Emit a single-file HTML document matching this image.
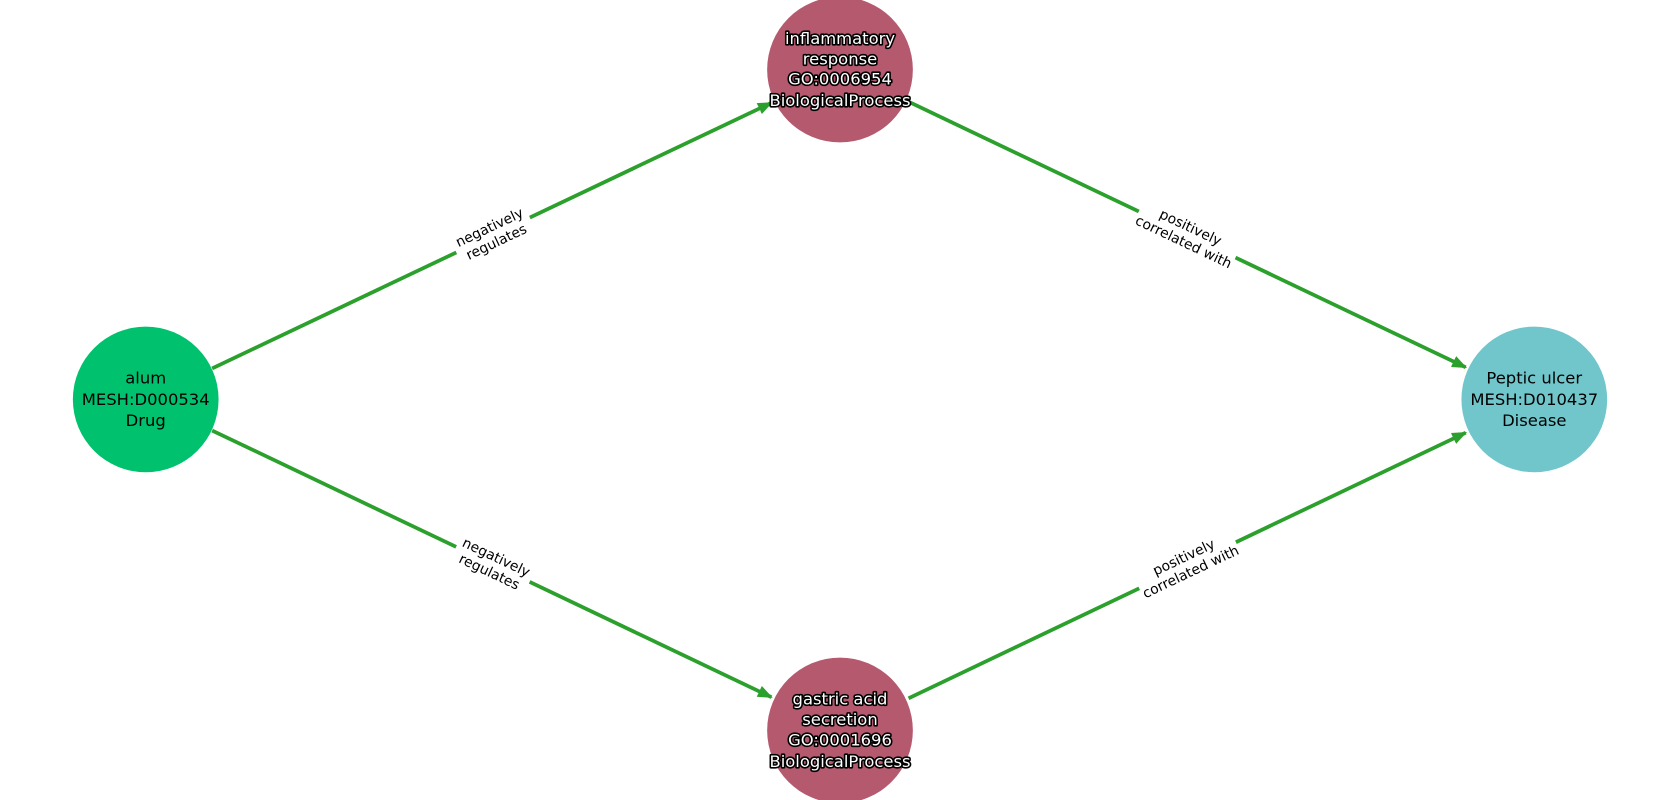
<!DOCTYPE html>
<html><head><meta charset="utf-8"><style>html,body{margin:0;padding:0;background:#fff}svg{display:block}</style></head>
<body>
<svg width="1680" height="800" viewBox="0 0 1568 747" preserveAspectRatio="none" xmlns="http://www.w3.org/2000/svg" font-family="DejaVu Sans, Liberation Sans, sans-serif">
<defs><marker id="a" viewBox="0 0 10 10" refX="9" refY="5" markerWidth="4" markerHeight="4" orient="auto"><path d="M0,1 L10,5 L0,9 z" fill="#2ca02c"/></marker></defs>
<g stroke="#2ca02c" stroke-width="3.5" fill="none">
<line x1="198" y1="344" x2="720" y2="96" marker-end="url(#a)"/>
<line x1="848" y1="95" x2="1368" y2="343" marker-end="url(#a)"/>
<line x1="198" y1="402" x2="720" y2="651" marker-end="url(#a)"/>
<line x1="848" y1="652" x2="1368" y2="404" marker-end="url(#a)"/>
</g>
<g font-size="13" text-anchor="middle" fill="#000">
<g transform="translate(460,219) rotate(-25.4)"><rect x="-38" y="-17" width="76" height="34" fill="#fff"/><text y="-3">negatively</text><text y="12">regulates</text></g>
<g transform="translate(1108,219) rotate(25.4)"><rect x="-50" y="-17" width="100" height="34" fill="#fff"/><text y="-3">positively</text><text y="12">correlated with</text></g>
<g transform="translate(460,527) rotate(25.4)"><rect x="-38" y="-17" width="76" height="34" fill="#fff"/><text y="-3">negatively</text><text y="12">regulates</text></g>
<g transform="translate(1108,527) rotate(-25.4)"><rect x="-50" y="-17" width="100" height="34" fill="#fff"/><text y="-3">positively</text><text y="12">correlated with</text></g>
</g>
<circle cx="136" cy="373" r="68" fill="#00c26e"/>
<circle cx="784" cy="65" r="68" fill="#b5596e"/>
<circle cx="784" cy="682" r="68" fill="#b5596e"/>
<circle cx="1432" cy="373" r="68" fill="#70c6cb"/>
<g font-size="15.3" text-anchor="middle" fill="#000">
<text x="136" y="358">alum</text><text x="136" y="378">MESH:D000534</text><text x="136" y="398">Drug</text>
<text x="1432" y="358">Peptic ulcer</text><text x="1432" y="378">MESH:D010437</text><text x="1432" y="398">Disease</text>
</g>
<g font-size="15.3" text-anchor="middle" fill="#fff" stroke="#000" stroke-width="3" paint-order="stroke" stroke-linejoin="round">
<text x="784" y="41">inflammatory</text><text x="784" y="60">response</text><text x="784" y="79">GO:0006954</text><text x="784" y="99">BiologicalProcess</text>
<text x="784" y="658">gastric acid</text><text x="784" y="677">secretion</text><text x="784" y="696">GO:0001696</text><text x="784" y="716">BiologicalProcess</text>
</g>
</svg>
</body></html>
